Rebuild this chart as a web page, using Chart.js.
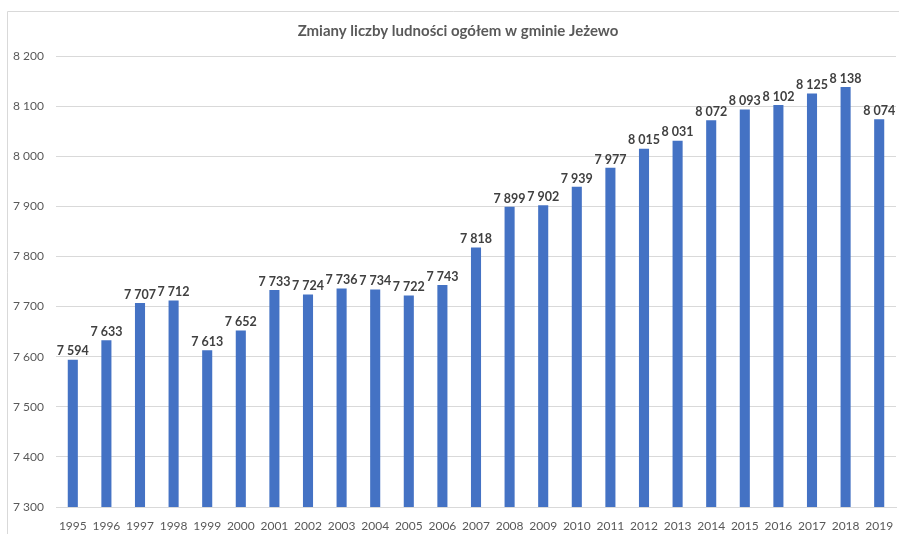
<!DOCTYPE html>
<html>
<head>
<meta charset="utf-8">
<script src="https://cdn.jsdelivr.net/npm/chart.js@4"></script>
<style>
  html, body { margin: 0; padding: 0; background: #fff; }
  #wrap { width: 899px; height: 534px; }
</style>
</head>
<body>
<div id="wrap"><canvas id="chart" width="899" height="534"></canvas></div>
<script>
// ── Dati ────────────────────────────────────────────────
var years = ['1995', '1996', '1997', '1998', '1999', '2000', '2001', '2002', '2003', '2004',
    '2005', '2006', '2007', '2008', '2009', '2010', '2011', '2012', '2013', '2014',
    '2015', '2016', '2017', '2018', '2019'];
var population = [7594, 7633, 7707, 7712, 7613, 7652, 7733, 7724, 7736, 7734,
    7722, 7743, 7818, 7899, 7902, 7939, 7977, 8015, 8031, 8072,
    8093, 8102, 8125, 8138, 8074];
var chartTitle = 'Zmiany liczby ludności ogółem w gminie Jeżewo';

var FONT = 'Lato, "Open Sans", sans-serif';

function fmt(v) {
    return String(v).replace(/\B(?=(\d{3})+(?!\d))/g, ' ');
}

// cornice e titolo
var framePlugin = {
    id: 'frame',
    beforeDraw: function (chart) {
        var ctx = chart.ctx;
        ctx.save();
        ctx.strokeStyle = '#d9d9d9';
        ctx.lineWidth = 1;
        ctx.beginPath();
        ctx.moveTo(7.5, chart.height);
        ctx.lineTo(7.5, 11.5);
        ctx.lineTo(chart.width, 11.5);
        ctx.stroke();
        ctx.fillStyle = '#595959';
        ctx.font = 'bold 15px ' + FONT;
        ctx.textAlign = 'center';
        ctx.textBaseline = 'middle';
        ctx.fillText(chartTitle, 458, 31);
        ctx.restore();
    }
};

// etichette sopra le barre
var labelPlugin = {
    id: 'valueLabels',
    afterDatasetsDraw: function (chart) {
        var ctx = chart.ctx;
        var meta = chart.getDatasetMeta(0);
        ctx.save();
        ctx.fillStyle = '#404040';
        ctx.font = 'bold 12.5px ' + FONT;
        ctx.textAlign = 'center';
        ctx.textBaseline = 'bottom';
        meta.data.forEach(function (bar, i) {
            ctx.fillText(fmt(population[i]), bar.x, bar.y - 2);
        });
        ctx.restore();
    }
};

new Chart(document.getElementById('chart').getContext('2d'), {
    type: 'bar',
    data: {
        labels: years,
        datasets: [{
            data: population,
            backgroundColor: '#4472c4',
            categoryPercentage: 1,
            barPercentage: 0.3
        }]
    },
    options: {
        responsive: false,
        animation: false,
        layout: { padding: { top: 56, right: 3, left: 0, bottom: 0 } },
        plugins: {
            legend: { display: false },
            tooltip: { enabled: false }
        },
        scales: {
            x: {
                grid: { display: false },
                border: { display: true, color: '#d9d9d9' },
                ticks: {
                    color: '#595959',
                    font: { family: FONT, size: 12 },
                    padding: 4,
                    maxRotation: 0,
                    autoSkip: false
                },
                afterFit: function (s) { s.height = 27; }
            },
            y: {
                min: 7300,
                max: 8200,
                grid: { color: '#d9d9d9', drawTicks: false },
                border: { display: false },
                ticks: {
                    stepSize: 100,
                    color: '#595959',
                    font: { family: FONT, size: 12 },
                    padding: 12,
                    callback: function (v) { return fmt(v); }
                },
                afterFit: function (s) { s.width = 56; }
            }
        }
    },
    plugins: [framePlugin, labelPlugin]
});
</script>
</body>
</html>
